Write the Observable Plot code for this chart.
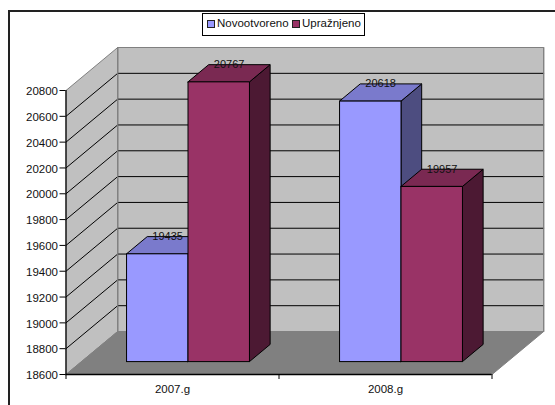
<!DOCTYPE html>
<html>
<head>
<meta charset="utf-8">
<script src="https://cdn.jsdelivr.net/npm/d3@7"></script>
<script src="https://cdn.jsdelivr.net/npm/@observablehq/plot@0.6"></script>
<style>
html,body{margin:0;padding:0;background:#fff;width:555px;height:405px;overflow:hidden}
#wrap{position:relative;width:555px;height:405px;font-family:"Liberation Sans",Arial,sans-serif}
#frame{position:absolute;left:8px;top:10px;width:600px;height:500px;border:2px solid #222;box-sizing:border-box}
#chart{position:absolute;left:0;top:0}
#legend{position:absolute;left:202px;top:13px;width:163px;height:23px;box-sizing:border-box;border:1px solid #000;background:#fff;font-size:11.5px;color:#111;white-space:nowrap}
#legend span{position:absolute;top:3px}
#legend i{position:absolute;top:6px;width:6px;height:6px;border:1px solid #222}
</style>
</head>
<body>
<div id="wrap">
<div id="frame"></div>
<div id="chart"></div>
<div id="legend"></div>
</div>
<script>
const categories = ["2007.g", "2008.g"];
const seriesNames = ["Novootvoreno", "Upražnjeno"];
const novootvoreno = [19435, 20618];
const upraznjeno = [20767, 19957];
const yTicks = [18600,18800,19000,19200,19400,19600,19800,20000,20200,20400,20600,20800];
const frontColors = ["#9999ff", "#993366"];
const topColors = ["#7a7acc", "#7a2952"];
const sideColors = ["#4d4d80", "#4c1933"];

const yMin = 18600, yMax = 20800;
// oblique projection: a depth of 1 moves a point this far in data units
const depthX = 0.2427, depthY = 333;
const P = (x, y, d) => ({x: x + d * depthX, y: y + d * depthY});
const poly = (pts, fill, stroke, strokeWidth = 1) =>
  Plot.line([...pts, pts[0]], {x: "x", y: "y", fill, stroke, strokeWidth, strokeLinejoin: "miter", curve: "linear"});

const nCat = categories.length;
const marks = [];

// walls and floor
marks.push(poly([P(0,yMin,1),P(nCat,yMin,1),P(nCat,yMax,1),P(0,yMax,1)], "#c0c0c0", "#808080"));
marks.push(poly([P(0,yMin,0),P(0,yMin,1),P(0,yMax,1),P(0,yMax,0)], "#c0c0c0", "#808080"));
marks.push(poly([P(0,yMin,0),P(nCat,yMin,0),P(nCat,yMin,1),P(0,yMin,1)], "#808080", "#808080"));

// gridlines on both walls
for (const t of yTicks.slice(1, -1)) {
  marks.push(Plot.line([P(0,t,0),P(0,t,1),P(nCat,t,1)], {x:"x", y:"y", stroke:"#000", strokeWidth:1}));
}
// restate the grey wall edge lines drawn over the grid
marks.push(Plot.line([P(0,yMin,1),P(0,yMax,1)], {x:"x", y:"y", stroke:"#808080", strokeWidth:1.2}));
marks.push(Plot.line([P(nCat,yMin,1),P(nCat,yMax,1)], {x:"x", y:"y", stroke:"#808080", strokeWidth:1.2}));

// bars
const gap = 0.2115, barW = 0.2885, d0 = 0.3, d1 = 0.7;
const values = [novootvoreno, upraznjeno];
const labels = [];
categories.forEach((c, i) => {
  values.forEach((vals, s) => {
    const x0 = i + gap + s * barW, x1 = x0 + barW, v = vals[i];
    marks.push(poly([P(x1,yMin,d0),P(x1,yMin,d1),P(x1,v,d1),P(x1,v,d0)], sideColors[s], "#000"));
    marks.push(poly([P(x0,v,d0),P(x1,v,d0),P(x1,v,d1),P(x0,v,d1)], topColors[s], "#000"));
    marks.push(poly([P(x0,yMin,d0),P(x1,yMin,d0),P(x1,v,d0),P(x0,v,d0)], frontColors[s], "#000"));
    labels.push({...P((x0+x1)/2, v, d1), text: String(v)});
  });
});

// value labels, centred above the middle of each bar's depth
marks.push(Plot.text(labels, {
  x: d => d.x - (d1 - 0.5) * depthX, y: "y", text: "text",
  fontSize: 11, fill: "#111", fontFamily: "Liberation Sans"
}));

// axes
marks.push(Plot.ruleX([0], {y1: yMin, y2: yMax, stroke: "#000", strokeWidth: 1.2}));
marks.push(Plot.ruleY([yMin], {x1: 0, x2: nCat, stroke: "#000", strokeWidth: 1.5}));
marks.push(Plot.axisY({ticks: yTicks, tickSize: 6, tickFormat: () => "", label: null, stroke: "#000"}));
marks.push(Plot.axisY({ticks: yTicks, tickSize: 0, tickPadding: 8, dy: 1, fontSize: 11.5, tickFormat: d => String(d), label: null, fill: "#111", fontFamily: "Liberation Sans"}));
marks.push(Plot.axisX({ticks: d3.range(nCat + 1), tickSize: 5, tickFormat: () => "", label: null, stroke: "#000"}));
marks.push(Plot.text(categories, {
  x: (d, i) => i + 0.5, y: yMin, text: d => d, dy: 15, fontSize: 11.5, fill: "#111", fontFamily: "Liberation Sans"
}));

const chart = Plot.plot({
  width: 555, height: 405,
  marginLeft: 65.5, marginRight: 63.5, marginTop: 90, marginBottom: 31,
  x: {type: "linear", domain: [0, nCat]},
  y: {type: "linear", domain: [yMin, yMax]},
  style: {background: "transparent", overflow: "visible"},
  marks
});
document.getElementById("chart").append(chart);

const lg = document.getElementById("legend");
const pos = [[4, 14], [89, 99]];
seriesNames.forEach((n, s) => {
  const sw = document.createElement("i");
  sw.style.left = pos[s][0] + "px"; sw.style.background = frontColors[s];
  const t = document.createElement("span");
  t.style.left = pos[s][1] + "px"; t.textContent = n;
  lg.append(sw, t);
});
</script>
</body>
</html>
